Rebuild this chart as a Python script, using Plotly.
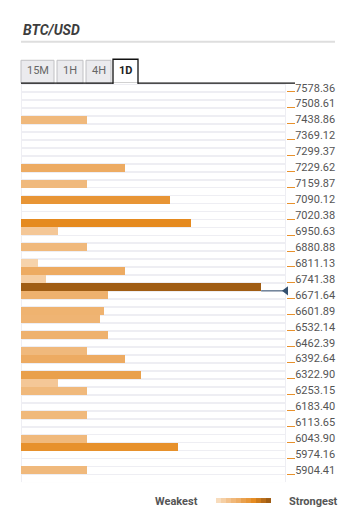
import plotly.graph_objects as go

# Price levels shown on the right-hand axis (top to bottom)
tick_labels = ["7578.36", "7508.61", "7438.86", "7369.12", "7299.37", "7229.62",
               "7159.87", "7090.12", "7020.38", "6950.63", "6880.88", "6811.13",
               "6741.38", "6671.64", "6601.89", "6532.14", "6462.39", "6392.64",
               "6322.90", "6253.15", "6183.40", "6113.65", "6043.90", "5974.16",
               "5904.41"]

# Confluence levels and their strength
levels = [7438.86, 7229.62, 7159.87, 7090.12, 6985.50, 6950.63, 6880.88, 6811.13,
          6776.26, 6741.38, 6706.51, 6671.64, 6601.89, 6567.01, 6497.27, 6427.52,
          6392.64, 6322.90, 6288.02, 6253.15, 6148.53, 6043.90, 6009.03, 5904.41]
strength = [16, 25, 16, 36, 41, 9, 16, 4, 25, 6, 58, 21, 20, 19, 21, 16,
            25, 29, 9, 16, 16, 16, 38, 16]

current_price = 6689.1
timeframes = ["15M", "1H", "4H", "1D"]
active_tab = "1D"

W, H = 350, 507
FONT = "Roboto, Arial, sans-serif"

tick_vals = [float(t) for t in tick_labels]
step = (tick_vals[0] - tick_vals[-1]) / (len(tick_vals) - 1) / 2   # one row
n_rows = 2 * (len(tick_vals) - 1) + 2
row_centers = [tick_vals[0] - step * k for k in range(n_rows)]
y_range = [row_centers[-1] - step / 2, row_centers[0] + step / 2]
x_max = 64

scale = [[0, "#f8dcbc"], [4 / 58, "#f6d3ab"], [9 / 58, "#f4c797"],
         [16 / 58, "#f0b97c"], [25 / 58, "#edab62"], [29 / 58, "#e9a04c"],
         [36 / 58, "#e89535"], [41 / 58, "#e58a1f"], [1, "#a05d14"]]


def px(x):
    return x / W


def py(y):
    return (H - y) / H


fig = go.Figure()

# white row strips over the light grid background
fig.add_trace(go.Bar(
    y=row_centers, x=[x_max - 0.5] * n_rows, base=0.25, orientation="h",
    width=step * 0.78, marker=dict(color="white", line=dict(width=0)),
    hoverinfo="skip", showlegend=False))

# current price pointer
fig.add_trace(go.Scatter(
    x=[max(strength), x_max], y=[current_price, current_price], mode="lines",
    line=dict(color="#34506f", width=1), hoverinfo="skip", showlegend=False,
    cliponaxis=False))
fig.add_trace(go.Scatter(
    x=[x_max], y=[current_price], mode="markers",
    marker=dict(symbol="triangle-left", size=8, color="#34506f"),
    hoverinfo="skip", showlegend=False, cliponaxis=False))

# strength bars
fig.add_trace(go.Bar(
    y=levels, x=strength, orientation="h", width=step,
    marker=dict(color=strength, colorscale=scale, cmin=0, cmax=58,
                line=dict(width=0)),
    showlegend=False))

# weakest -> strongest gradient
grad = [round(58 * i / 10, 1) for i in range(11)]
fig.add_trace(go.Heatmap(
    z=[grad], colorscale=scale, zmin=0, zmax=58, showscale=False,
    xaxis="x2", yaxis="y2", hoverinfo="skip", xgap=0))

# tick marks at row boundaries
fig.add_trace(go.Scatter(x=[None], y=[None], yaxis="y3", showlegend=False))

fig.update_layout(
    width=W, height=H,
    margin=dict(l=0, r=0, t=0, b=0),
    paper_bgcolor="white", plot_bgcolor="#eeeef3",
    barmode="overlay", bargap=0,
    xaxis=dict(domain=[px(21), px(286)], range=[0, x_max], visible=False,
               fixedrange=True),
    yaxis=dict(domain=[py(482), py(82)], range=y_range, side="right",
               tickvals=tick_vals, ticktext=tick_labels, ticks="outside",
               ticklen=6, tickcolor="rgba(0,0,0,0)", showgrid=False,
               zeroline=False, showline=False,
               tickfont=dict(family=FONT, size=11, color="#555")),
    yaxis3=dict(overlaying="y", anchor="x", side="right", range=y_range,
                tickvals=[v - step / 2 for v in tick_vals], ticks="outside",
                ticklen=8, tickwidth=1, tickcolor="#e8912c",
                showticklabels=False, showgrid=False, zeroline=False,
                showline=False),
    xaxis2=dict(domain=[px(216), px(271)], anchor="y2", visible=False),
    yaxis2=dict(domain=[py(503), py(498)], anchor="x2", visible=False),
    font=dict(family=FONT),
)

# header
fig.add_annotation(x=px(21), y=py(28), xref="paper", yref="paper",
                   text="<b><i>BTC/USD</i></b>", showarrow=False,
                   xanchor="left", yanchor="middle",
                   font=dict(family=FONT, size=14, color="#3d3d3d"))
fig.add_shape(type="line", xref="paper", yref="paper",
              x0=px(21), x1=px(335), y0=py(40), y1=py(40),
              line=dict(color="#dedede", width=2))

# timeframe tabs
tab_edges = [(21, 54), (57, 83), (86, 111), (113, 138)]
for name, (x0, x1) in zip(timeframes, tab_edges):
    active = name == active_tab
    fig.add_shape(type="rect", xref="paper", yref="paper",
                  x0=px(x0), x1=px(x1),
                  y0=py(81.5), y1=py(57.5 if active else 58.5),
                  fillcolor="white" if active else "#ebebee",
                  line=dict(color="#111" if active else "#c0c0c4",
                            width=1.3 if active else 1),
                  layer="below")
    fig.add_annotation(x=px((x0 + x1) / 2), y=py(68.5), xref="paper",
                       yref="paper", showarrow=False,
                       xanchor="center", yanchor="middle",
                       text=f"<b>{name}</b>" if active else name,
                       font=dict(family=FONT, size=11,
                                 color="#222" if active else "#666"))
fig.add_shape(type="line", xref="paper", yref="paper",
              x0=px(21), x1=px(113), y0=py(81.5), y1=py(81.5),
              line=dict(color="#111", width=1.3))
fig.add_shape(type="line", xref="paper", yref="paper",
              x0=px(138), x1=px(295), y0=py(81.5), y1=py(81.5),
              line=dict(color="#111", width=1.3))
# hide the bottom edge under the active tab
fig.add_shape(type="line", xref="paper", yref="paper",
              x0=px(113.8), x1=px(137.2), y0=py(81.5), y1=py(81.5),
              line=dict(color="white", width=1.6))

# gradient legend labels
fig.add_annotation(x=px(200), y=py(501), xref="paper", yref="paper",
                   text="<b>Weakest</b>", showarrow=False, xanchor="right",
                   yanchor="middle",
                   font=dict(family=FONT, size=11, color="#555"))
fig.add_annotation(x=px(287), y=py(501), xref="paper", yref="paper",
                   text="<b>Strongest</b>", showarrow=False, xanchor="left",
                   yanchor="middle",
                   font=dict(family=FONT, size=11, color="#555"))

fig.write_html("out.html")
